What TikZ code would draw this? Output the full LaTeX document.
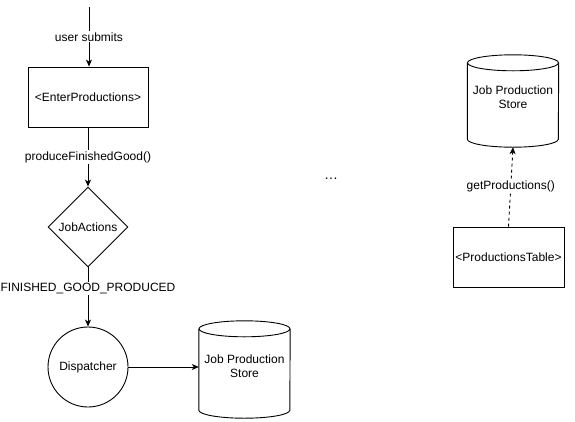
\documentclass[tikz,border=0pt]{standalone}
\usepackage{fontspec}
\setmainfont{Liberation Sans}
\usetikzlibrary{shapes.geometric,arrows.meta}
\begin{document}
\begin{tikzpicture}[x=1pt,y=-1pt,
  every node/.style={font=\fontsize{12}{14}\selectfont, inner sep=0pt},
  base/.style={line width=0.9pt},
  boxnode/.style={base, draw, minimum width=120pt, minimum height=60pt},
  decision/.style={base, draw, diamond, aspect=1, minimum width=80pt, minimum height=80pt},
  roundnode/.style={base, draw, circle, minimum size=80pt},
  store/.style={minimum width=91pt, minimum height=97pt},
  storetext/.style={align=center},
  arr/.style={base, -{Stealth[length=7pt,width=6pt,inset=2pt]}},
  lbl/.style={fill=white, inner sep=1pt}
]
\useasboundingbox (0,0) rectangle (575,421);

\coordinate (start) at (89,7);
\node[boxnode] (enter) at (88,97) {<EnterProductions>};
\node[decision] (job) at (88,227) {JobActions};
\node[roundnode] (disp) at (88,367) {Dispatcher};
\node[store] (s1) at (244.5,369.5) {};
\node[storetext] (s1t) at ([yshift=3pt]s1.center) {Job Production\\Store};
\node[store, minimum height=92pt] (s2) at (513,101) {};
\node[storetext] (s2t) at ([yshift=3.5pt]s2.center) {Job Production\\Store};
\node[boxnode, minimum width=111pt] (table) at (508.5,257) {<ProductionsTable>};
\node (dots) at (331,179) {\fontsize{14}{14}\selectfont\ldots};

% cylinders
\foreach \s in {s1,s2}{
  \draw[base] ([yshift=-8pt]\s.north) ellipse [x radius=45.5pt, y radius=8pt];
  \draw[base] ([yshift=-8pt]\s.north west) -- ([yshift=8pt]\s.south west)
     arc [start angle=180, end angle=360, x radius=45.5pt, y radius=8pt]
     -- ([yshift=-8pt]\s.north east);
}

\draw[arr] (start) -- node[lbl] {user submits} (enter.north -| start);
\draw[arr] (enter.south) -- node[lbl] {produceFinishedGood()} (job.north);
\draw[arr] (job.south) -- node[lbl, pos=0.35] {FINISHED\_GOOD\_PRODUCED} (disp.north);
\draw[arr] (disp.east) -- (disp.east -| s1.west);
\draw[arr, dashed, dash pattern=on 3pt off 3pt] (table.north) -- node[lbl] {getProductions()} (s2.south);
\end{tikzpicture}
\end{document}
